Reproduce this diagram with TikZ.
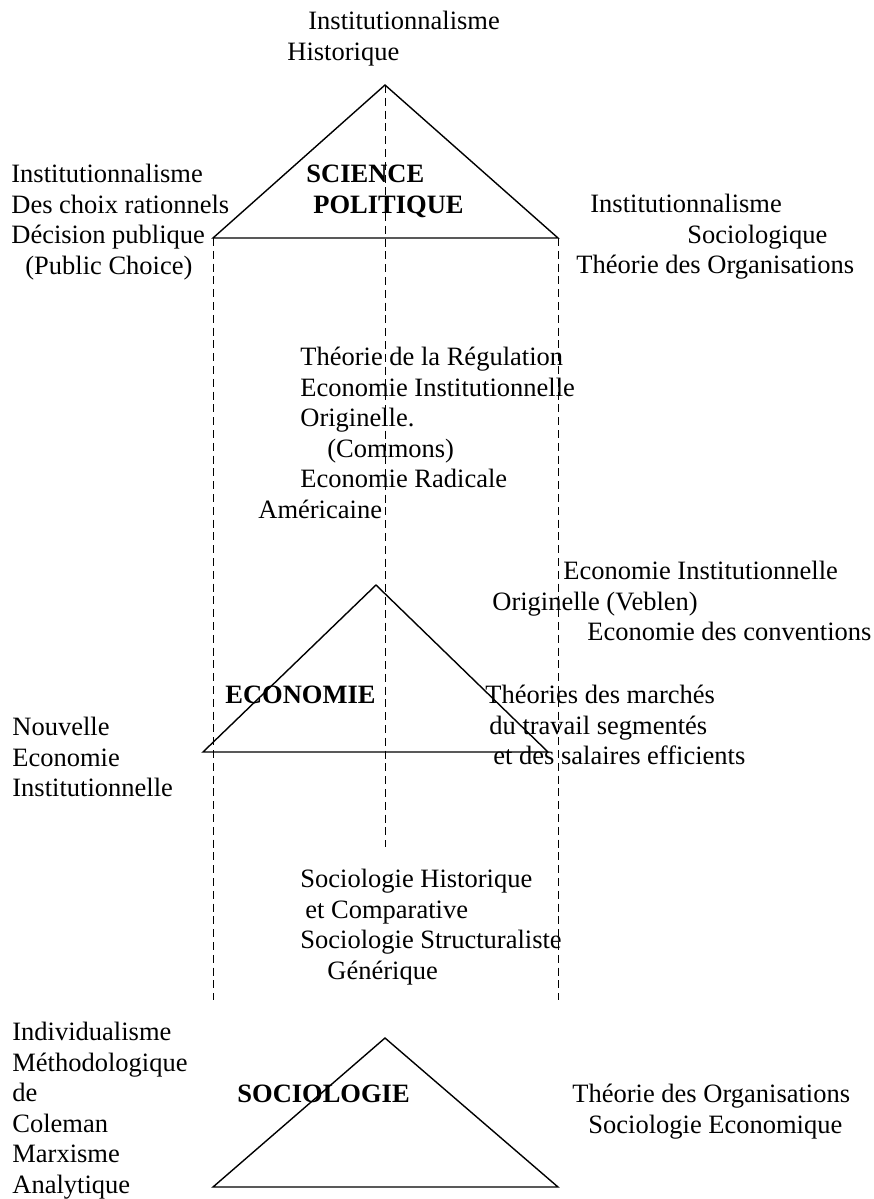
\documentclass[tikz,border=0pt]{standalone}
\usepackage{fontspec}
\setmainfont{Liberation Serif}
\usetikzlibrary{positioning}

\begin{document}
\begin{tikzpicture}[x=0.5pt,y=-0.5pt,
  lbl/.style={anchor=north west,inner sep=0pt,align=left,font=\fontsize{13.25}{15.3}\selectfont},
  head/.style={lbl,font=\fontsize{13.25}{15.3}\selectfont\bfseries},
  tri/.style={line width=0.7pt,line join=miter},
  guide/.style={line width=0.5pt,dash pattern=on 4pt off 2.4pt}]
  \useasboundingbox (0,0) rectangle (873,1199);
  % sommets des trois triangles
  \coordinate (spT) at (385,85);   \coordinate (spL) at (213,238);  \coordinate (spR) at (558,238);
  \coordinate (ecT) at (376,585);  \coordinate (ecL) at (203,752);  \coordinate (ecR) at (548,752);
  \coordinate (soT) at (385,1038); \coordinate (soL) at (213,1187); \coordinate (soR) at (558,1187);
  \coordinate (endL) at (213,1000); \coordinate (endR) at (558,1000); \coordinate (endC) at (385,847);
  \draw[guide] (spL) -- (endL);
  \draw[guide] (spR) -- (endR);
  \draw[guide] (spT) -- (endC);
  \foreach \d in {sp,ec,so}{
    \draw[tri] (\d T) -- (\d L) -- (\d R) -- cycle;
  }
  % science politique
  \node[lbl] (histo) at (287,7.6) {\strut\hspace*{10.5pt}Institutionnalisme\\Historique};
  \node[head] (scpol) at (306,160.6) {\strut SCIENCE\\\hspace*{3.5pt}POLITIQUE};
  \node[lbl] (choix) at (11,160.6) {\strut Institutionnalisme\\Des choix rationnels\\D\'ecision publique\\\hspace*{7pt}(Public Choice)};
  \node[lbl] (socio) at (576,190.6) {\strut\hspace*{7pt}Institutionnalisme\\\hspace*{55.5pt}Sociologique\\Th\'eorie des Organisations};
  \node[lbl] (regul) at (258,343.6) {\strut\hspace*{21pt}Th\'eorie de la R\'egulation\\\hspace*{21pt}Economie Institutionnelle\\\hspace*{21pt}Originelle.\\\hspace*{34.5pt}(Commons)\\\hspace*{21pt}Economie Radicale\\Am\'ericaine};
  % economie
  \node[lbl] (veblen) at (492,557.6) {\strut\hspace*{35.5pt}Economie Institutionnelle\\Originelle (Veblen)\\\hspace*{47.5pt}Economie des conventions};
  \node[head] (eco) at (225,681.6) {\strut ECONOMIE};
  \node[lbl] (marches) at (485,681.6) {\strut Th\'eories des march\'es\\\hspace*{2pt}du travail segment\'es\\\hspace*{4pt}et des salaires efficients};
  \node[lbl] (nei) at (12,713.6) {\strut Nouvelle\\Economie\\Institutionnelle};
  % sociologie
  \node[lbl] (compar) at (300,865.6) {\strut Sociologie Historique\\\hspace*{2.5pt}et Comparative\\Sociologie Structuraliste\\\hspace*{13.5pt}G\'en\'erique};
  \node[lbl] (coleman) at (12,1018.6) {\strut Individualisme\\M\'ethodologique\\de\\Coleman\\Marxisme\\Analytique};
  \node[head] (soc) at (237,1080.6) {\strut SOCIOLOGIE};
  \node[lbl] (orga) at (572,1080.6) {\strut Th\'eorie des Organisations\\\hspace*{8pt}Sociologie Economique};
\end{tikzpicture}
\end{document}
